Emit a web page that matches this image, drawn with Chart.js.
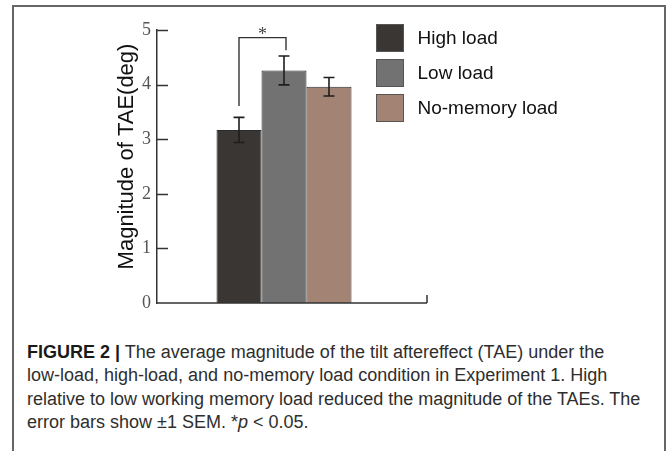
<!DOCTYPE html>
<html>
<head>
<meta charset="utf-8">
<script src="https://cdn.jsdelivr.net/npm/chart.js@4.4.1/dist/chart.umd.min.js"></script>
<style>
  html, body { margin: 0; padding: 0; background: #fff; }
  body { width: 667px; height: 451px; position: relative; overflow: hidden; }
  #frame {
    position: absolute; left: 12px; top: 5px; width: 654px; height: 480px;
    border: 2px solid #666; border-bottom: none; box-sizing: border-box;
  }
  #chartBox { position: absolute; left: 0; top: 0; width: 667px; height: 330px; }
  #caption {
    position: absolute; left: 27px; top: 341px;
    font-family: "Liberation Sans", Arial, sans-serif; font-size: 18px;
    line-height: 23.4px; color: #2e2e2e; white-space: nowrap;
  }
  #caption b { color: #1a1a1a; }
</style>
</head>
<body>
<div id="frame"></div>
<div id="chartBox"><canvas id="tae" width="667" height="330"></canvas></div>
<div id="caption">
  <div><b>FIGURE 2 |</b> The average magnitude of the tilt aftereffect (TAE) under the</div>
  <div>low-load, high-load, and no-memory load condition in Experiment 1. High</div>
  <div>relative to low working memory load reduced the magnitude of the TAEs. The</div>
  <div>error bars show ±1 SEM. *<i>p</i> &lt; 0.05.</div>
</div>

<script>
// datos
const groupLabels = ['Experiment 1'];
const conditions = ['High load', 'Low load', 'No-memory load'];
const means = [3.17, 4.26, 3.96];
const sems = [0.23, 0.265, 0.17];
const yTicks = [0, 1, 2, 3, 4, 5];
const yTitle = 'Magnitude of TAE(deg)';

// comparacion significativa (High vs Low)
const sigPair = [0, 1];
const sigTop = 4.86;
const sigLegBottoms = [3.61, 4.63];
const sigLabel = '*';

const barColors = ['#393634', '#727272', '#a38474'];
const inkColor = '#1e1e1e';

// dibuja ejes, barras de error, corchete, titulo y leyenda
const figureExtras = {
    id: 'figureExtras',
    afterDraw(chart) {
        const ctx = chart.ctx;
        const area = chart.chartArea;
        const yScale = chart.scales.y;

        ctx.save();
        ctx.strokeStyle = '#333';
        ctx.lineWidth = 1.5;

        // ticks hacia dentro del eje Y
        yTicks.forEach(v => {
            if (v === yScale.min) return;
            const y = Math.round(yScale.getPixelForValue(v)) + 0.5;
            ctx.beginPath();
            ctx.moveTo(area.left, y);
            ctx.lineTo(area.left + 11, y);
            ctx.stroke();
        });

        // eje X, se alarga un poco a la derecha con un tick hacia arriba
        const xEnd = area.right + 16;
        ctx.beginPath();
        ctx.moveTo(area.left, area.bottom);
        ctx.lineTo(xEnd, area.bottom);
        ctx.moveTo(xEnd, area.bottom);
        ctx.lineTo(xEnd, area.bottom - 8);
        ctx.stroke();

        // barras de error (+-1 SEM)
        ctx.strokeStyle = inkColor;
        ctx.lineWidth = 1.6;
        const centers = [];
        conditions.forEach((name, i) => {
            const bar = chart.getDatasetMeta(i).data[0];
            const x = bar.x;
            centers.push(x);
            const yHi = yScale.getPixelForValue(means[i] + sems[i]);
            const yLo = yScale.getPixelForValue(means[i] - sems[i]);
            ctx.beginPath();
            ctx.moveTo(x, yHi);
            ctx.lineTo(x, yLo);
            ctx.moveTo(x - 5.5, yHi);
            ctx.lineTo(x + 5.5, yHi);
            ctx.moveTo(x - 5.5, yLo);
            ctx.lineTo(x + 5.5, yLo);
            ctx.stroke();
        });

        // corchete de significancia
        const xa = centers[sigPair[0]];
        const xb = centers[sigPair[1]] + 2;
        const yTop = yScale.getPixelForValue(sigTop);
        ctx.strokeStyle = '#333';
        ctx.lineWidth = 1.4;
        ctx.beginPath();
        ctx.moveTo(xa, yScale.getPixelForValue(sigLegBottoms[0]));
        ctx.lineTo(xa, yTop);
        ctx.lineTo(xb, yTop);
        ctx.lineTo(xb, yScale.getPixelForValue(sigLegBottoms[1]));
        ctx.stroke();

        ctx.fillStyle = '#444';
        ctx.font = '18px "Liberation Serif", serif';
        ctx.textAlign = 'center';
        ctx.textBaseline = 'alphabetic';
        ctx.fillText(sigLabel, (xa + xb) / 2, yTop + 2);

        // titulo del eje Y
        ctx.save();
        ctx.translate(127, (area.top + area.bottom) / 2 - 10);
        ctx.rotate(-Math.PI / 2);
        ctx.fillStyle = '#111';
        ctx.font = '22px "Liberation Sans", Arial, sans-serif';
        ctx.textAlign = 'center';
        ctx.textBaseline = 'middle';
        ctx.fillText(yTitle, 0, 0);
        ctx.restore();

        // leyenda
        const lx = area.right - 34.5;
        chart.data.datasets.forEach((ds, i) => {
            const top = 24.5 + i * 35;
            ctx.fillStyle = ds.backgroundColor;
            ctx.fillRect(lx, top, 27, 27);
            ctx.strokeStyle = '#555';
            ctx.lineWidth = 1;
            ctx.strokeRect(lx, top, 27, 27);
            ctx.fillStyle = '#111';
            ctx.font = '19px "Liberation Sans", Arial, sans-serif';
            ctx.textAlign = 'left';
            ctx.textBaseline = 'middle';
            ctx.fillText(ds.label, lx + 41, top + 14);
        });

        ctx.restore();
    }
};

const ctx = document.getElementById('tae').getContext('2d');
const chart = new Chart(ctx, {
    type: 'bar',
    data: {
        labels: groupLabels,
        datasets: conditions.map((name, i) => ({
            label: name,
            data: [means[i]],
            backgroundColor: barColors[i],
            borderColor: '#2a2a2a',
            borderWidth: 1
        }))
    },
    options: {
        responsive: false,
        animation: false,
        layout: { padding: { left: 137, right: 256, top: 30, bottom: 27 } },
        datasets: {
            bar: { categoryPercentage: 0.5315, barPercentage: 1 }
        },
        scales: {
            x: { display: false },
            y: {
                min: 0,
                max: 5,
                ticks: {
                    stepSize: 1,
                    padding: 6,
                    color: '#555',
                    font: { family: '"Liberation Serif", serif', size: 18 }
                },
                grid: { display: false, drawTicks: false },
                border: { display: true, color: '#333', width: 1.5 },
                afterFit: (scale) => { scale.width = 20; }
            }
        },
        plugins: {
            legend: { display: false },
            tooltip: { enabled: false }
        }
    },
    plugins: [figureExtras]
});
</script>
</body>
</html>
